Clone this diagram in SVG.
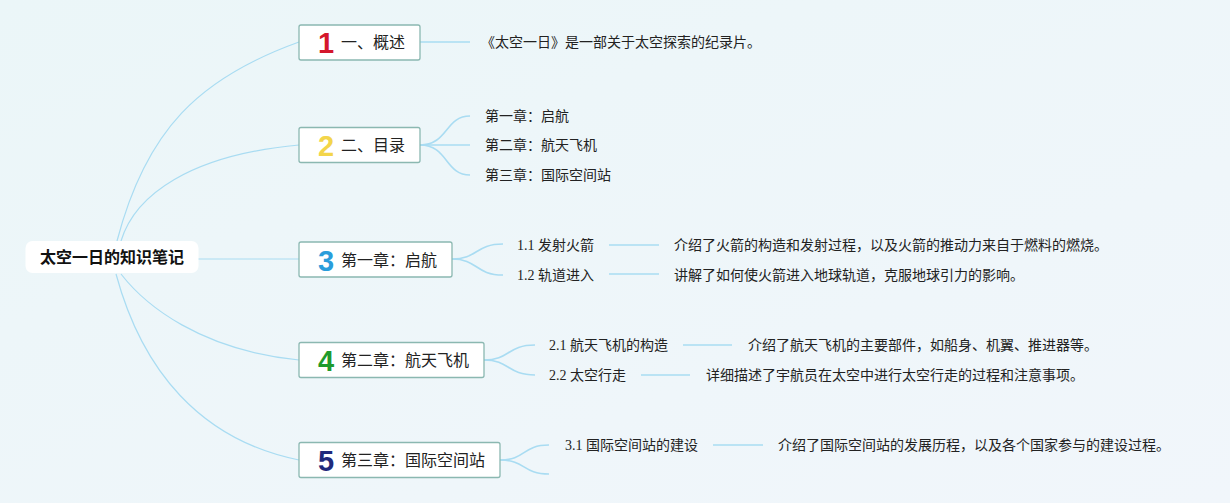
<svg xmlns="http://www.w3.org/2000/svg" width="1230" height="503" viewBox="0 0 1230 503">
<defs>
<linearGradient id="bg" x1="0" y1="0" x2="1" y2="1">
<stop offset="0" stop-color="#ebf6f8"/>
<stop offset="1" stop-color="#f1f6fb"/>
</linearGradient>
</defs>
<style>
.c{fill:none;stroke:#a9dcf2;stroke-width:1.2}
.c2{fill:none;stroke:#a9dcf2;stroke-width:1.6}
.box{fill:#fff;stroke:#8bb8b1;stroke-width:1.3}
.nt{font-family:"Noto Sans CJK SC",sans-serif;font-size:16px;fill:#222}
.num{font-family:"Liberation Sans","DejaVu Sans",sans-serif;font-size:29px;font-weight:bold;text-anchor:middle}
.t{font-family:"Liberation Serif","Noto Sans CJK SC",serif;font-size:14px;fill:#222}
.root{font-family:"Noto Sans CJK SC",sans-serif;font-size:16px;font-weight:bold;fill:#111;text-anchor:middle}
</style>
<rect width="1230" height="503" fill="url(#bg)"/>
<g id="connectors">
<path class="c" d="M117 241 C146 130 199 78 299 42"/>
<path class="c" d="M121 241 C135 195 190 155 299 145"/>
<path class="c" d="M198 259 L299 259"/>
<path class="c" d="M121 274 C145 305 200 350 299 360"/>
<path class="c" d="M116 274 C142 370 200 440 299 460"/>
<path class="c2" d="M420 42 L470 42"/>
<path class="c2" d="M420 145 C448 145 445 116 470 116"/>
<path class="c2" d="M420 145 L470 145"/>
<path class="c2" d="M420 145 C448 145 445 175 470 175"/>
<path class="c2" d="M452 259 C478 259 475 244 503 244"/>
<path class="c2" d="M452 259 C478 259 475 275 503 275"/>
<path class="c2" d="M484 360 C510 360 507 345 535 345"/>
<path class="c2" d="M484 360 C510 360 507 375 535 375"/>
<path class="c2" d="M500 460 C526 460 522 445 549 445"/>
<path class="c2" d="M500 460 C526 460 522 474 549 474"/>
<path class="c2" d="M609 245 L659 245"/>
<path class="c2" d="M609 274 L659 274"/>
<path class="c2" d="M683 345 L732 345"/>
<path class="c2" d="M641 375 L690 375"/>
<path class="c2" d="M713 445 L763 445"/>
</g>
<g id="root">
<rect x="25.5" y="241" width="173" height="32" rx="7" fill="#fff"/>
<text class="root" x="112" y="263">太空一日的知识笔记</text>
</g>
<g id="n1">
<rect class="box" x="299" y="25" width="121" height="35" rx="2"/>
<text class="num" x="326" y="53" fill="#d4172c">1</text>
<text class="nt" x="341" y="48">一、概述</text>
</g>
<g id="n2">
<rect class="box" x="299" y="127.5" width="121" height="35" rx="2"/>
<text class="num" x="326" y="156" fill="#f3d54a">2</text>
<text class="nt" x="341" y="151">二、目录</text>
</g>
<g id="n3">
<rect class="box" x="299" y="242" width="153" height="35" rx="2"/>
<text class="num" x="326" y="271" fill="#2a9ddb">3</text>
<text class="nt" x="341" y="266">第一章：启航</text>
</g>
<g id="n4">
<rect class="box" x="299" y="342.5" width="185" height="35" rx="2"/>
<text class="num" x="326" y="371" fill="#1e9a2c">4</text>
<text class="nt" x="341" y="366">第二章：航天飞机</text>
</g>
<g id="n5">
<rect class="box" x="299" y="442.5" width="201" height="35" rx="2"/>
<text class="num" x="326" y="471" fill="#1f2a7c">5</text>
<text class="nt" x="341" y="466">第三章：国际空间站</text>
</g>
<g id="n1c">
<text class="t" x="481" y="47">《太空一日》是一部关于太空探索的纪录片。</text>
</g>
<g id="n2c">
<text class="t" x="485" y="121">第一章：启航</text>
<text class="t" x="485" y="150">第二章：航天飞机</text>
<text class="t" x="485" y="180">第三章：国际空间站</text>
</g>
<g id="n3c">
<text class="t" x="517" y="250">1.1 发射火箭</text>
<text class="t" x="517" y="280">1.2 轨道进入</text>
<text class="t" x="674" y="250">介绍了火箭的构造和发射过程，以及火箭的推动力来自于燃料的燃烧。</text>
<text class="t" x="674" y="280">讲解了如何使火箭进入地球轨道，克服地球引力的影响。</text>
</g>
<g id="n4c">
<text class="t" x="549" y="350">2.1 航天飞机的构造</text>
<text class="t" x="549" y="380">2.2 太空行走</text>
<text class="t" x="748" y="350">介绍了航天飞机的主要部件，如船身、机翼、推进器等。</text>
<text class="t" x="706" y="380">详细描述了宇航员在太空中进行太空行走的过程和注意事项。</text>
</g>
<g id="n5c">
<text class="t" x="565" y="450">3.1 国际空间站的建设</text>
<text class="t" x="778" y="450">介绍了国际空间站的发展历程，以及各个国家参与的建设过程。</text>
</g>
</svg>
